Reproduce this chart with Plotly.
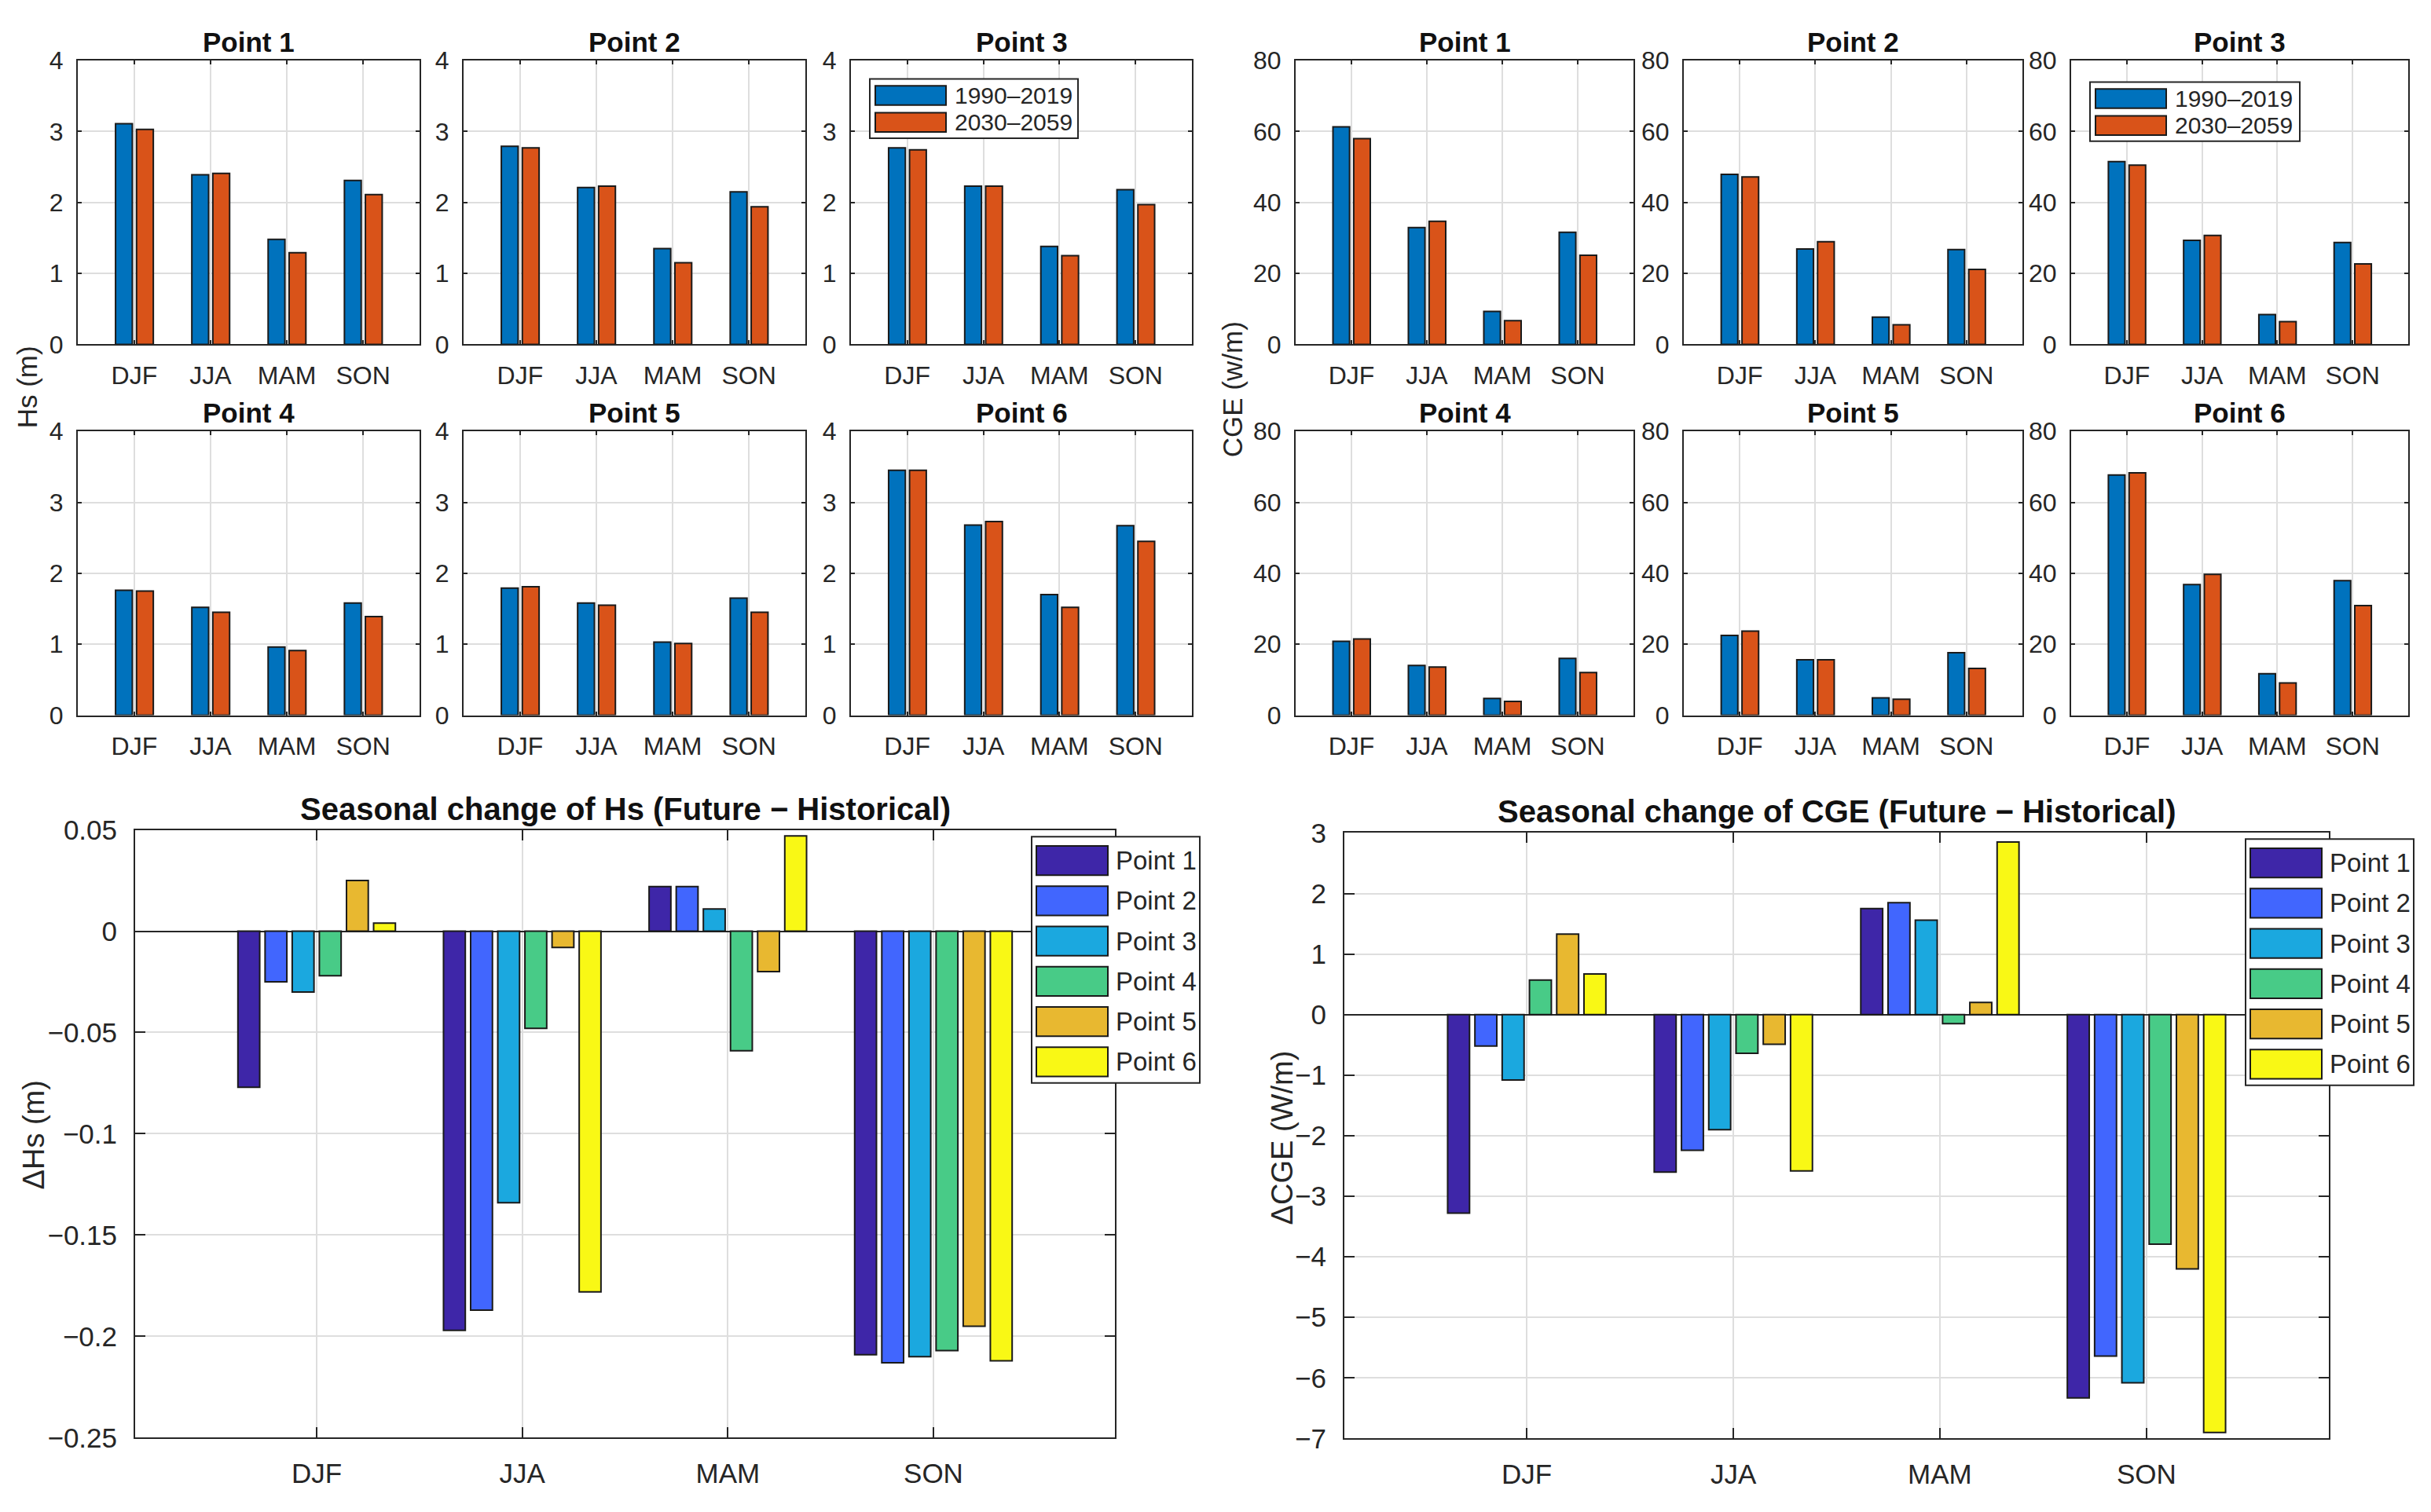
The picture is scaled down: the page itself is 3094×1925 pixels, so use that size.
import plotly.graph_objects as go

# ---- data ----
seasons = ["DJF", "JJA", "MAM", "SON"]
points = ["Point 1", "Point 2", "Point 3", "Point 4", "Point 5", "Point 6"]
periods = ["1990–2019", "2030–2059"]

# Hs (m), one row per point, seasons DJF JJA MAM SON
hs_hist = [
    [3.11, 2.39, 1.48, 2.31],
    [2.79, 2.21, 1.35, 2.15],
    [2.77, 2.23, 1.38, 2.18],
    [1.76, 1.52, 0.96, 1.58],
    [1.79, 1.58, 1.03, 1.65],
    [3.45, 2.68, 1.70, 2.67],
]
hs_fut = [
    [3.03, 2.41, 1.29, 2.11],
    [2.77, 2.23, 1.15, 1.94],
    [2.74, 2.23, 1.25, 1.97],
    [1.75, 1.45, 0.91, 1.39],
    [1.81, 1.55, 1.01, 1.45],
    [3.45, 2.73, 1.52, 2.45],
]

# CGE (w/m)
cge_hist = [
    [61.3, 32.9, 9.3, 31.6],
    [47.9, 26.9, 7.7, 26.7],
    [51.5, 29.3, 8.4, 28.7],
    [20.8, 14.0, 4.7, 16.0],
    [22.5, 15.6, 4.9, 17.6],
    [67.7, 36.8, 11.7, 37.9],
]
cge_fut = [
    [58.0, 34.7, 6.7, 25.1],
    [47.2, 28.9, 5.5, 21.1],
    [50.5, 30.7, 6.4, 22.7],
    [21.5, 13.6, 3.9, 12.0],
    [23.7, 15.6, 4.5, 13.2],
    [68.3, 39.7, 9.1, 30.9],
]

# seasonal change (future - historical), one row per point
d_hs = [
    [-0.077, -0.197, 0.022, -0.209],
    [-0.025, -0.187, 0.022, -0.213],
    [-0.030, -0.134, 0.011, -0.210],
    [-0.022, -0.048, -0.059, -0.207],
    [0.025, -0.008, -0.020, -0.195],
    [0.004, -0.178, 0.047, -0.212],
]
d_cge = [
    [-3.28, -2.60, 1.75, -6.33],
    [-0.52, -2.24, 1.85, -5.64],
    [-1.08, -1.90, 1.56, -6.08],
    [0.57, -0.64, -0.15, -3.79],
    [1.33, -0.49, 0.20, -4.20],
    [0.67, -2.58, 2.85, -6.90],
]

# ---- styling ----
PAGE_W, PAGE_H = 3094, 1925
PAD = 8  # browser default body margin around the plot div
W, H = PAGE_W - 2 * PAD, PAGE_H - 2 * PAD
FONT = "Arial, 'Liberation Sans', Helvetica, sans-serif"
INK = "#262626"
GRID = "#dedede"
EDGE = "#1a1a1a"
period_colors = ["#0072BD", "#D95319"]
point_colors = ["#3E26A8", "#4166FE", "#1BA8DF", "#48CB87", "#E8B830", "#F9F815"]


# page pixel -> paper fraction
def px(x):
    return (x - PAD) / W


def py(y):
    return 1 - (y - PAD) / H


fig = go.Figure()
layout = {}
annotations = []
shapes = []


def add_axes(k, xpx, ypx, xrange, yrange, dtick, ticklen, fsize, xstand, ystand):
    s = "" if k == 1 else str(k)
    common = dict(
        showline=True, linecolor=INK, linewidth=2, mirror="ticks",
        ticks="inside", ticklen=ticklen, tickwidth=2, tickcolor=INK,
        showgrid=True, gridcolor=GRID, gridwidth=1.5,
        tickfont=dict(family=FONT, size=fsize, color=INK),
    )
    layout["xaxis" + s] = dict(
        common, domain=[px(xpx[0]), px(xpx[1])], anchor="y" + s,
        type="category", categoryorder="array", categoryarray=seasons,
        range=xrange, ticklabelstandoff=xstand, zeroline=False,
    )
    layout["yaxis" + s] = dict(
        common, domain=[py(ypx[1]), py(ypx[0])], anchor="x" + s,
        range=yrange, dtick=dtick, ticklabelstandoff=ystand,
        zeroline=yrange[0] < 0, zerolinecolor=INK, zerolinewidth=2,
    )
    return "x" + s, "y" + s


def add_title(text, xpx, ytop, size, shift):
    annotations.append(dict(
        text="<b>%s</b>" % text, x=px((xpx[0] + xpx[1]) / 2), y=py(ytop),
        xref="paper", yref="paper", xanchor="center", yanchor="bottom",
        yshift=shift, showarrow=False,
        font=dict(family=FONT, size=size, color="#111111"),
    ))


def add_ylabel(text, x, y, size):
    annotations.append(dict(
        text=text, x=px(x), y=py(y), xref="paper", yref="paper",
        xanchor="center", yanchor="middle", textangle=-90, showarrow=False,
        font=dict(family=FONT, size=size, color=INK),
    ))


def add_legend(box, sw_x, sw_w, sw_h, rows_y, labels, colors, text_x, size):
    shapes.append(dict(
        type="rect", xref="paper", yref="paper", layer="above",
        x0=px(box[0]), x1=px(box[1]), y0=py(box[3]), y1=py(box[2]),
        fillcolor="white", line=dict(color=INK, width=2),
    ))
    for yy, lab, c in zip(rows_y, labels, colors):
        shapes.append(dict(
            type="rect", xref="paper", yref="paper", layer="above",
            x0=px(sw_x), x1=px(sw_x + sw_w), y0=py(yy + sw_h), y1=py(yy),
            fillcolor=c, line=dict(color=EDGE, width=2),
        ))
        annotations.append(dict(
            text=lab, x=px(text_x), y=py(yy + sw_h / 2), xref="paper",
            yref="paper", xanchor="left", yanchor="middle", showarrow=False,
            font=dict(family=FONT, size=size, color=INK),
        ))


# ---- small panels ----
hs_cols = [(99, 534), (590, 1025), (1083, 1517)]
cge_cols = [(1649, 2079), (2143, 2574), (2636, 3065)]
rows = [(58, 427), (540, 909)]

panels = [
    (hs_cols, hs_hist, hs_fut, [0, 4], 1, 1),
    (cge_cols, cge_hist, cge_fut, [0, 80], 20, 7),
]
for cols, hist, fut, yr, dt, k0 in panels:
    for i, name in enumerate(points):
        xpx = cols[i % 3]
        ypx = rows[i // 3]
        xa, ya = add_axes(k0 + i, xpx, ypx, [-0.74, 3.74], yr, dt, 5, 32, 10, 10)
        for vals, c, off, per in zip([hist[i], fut[i]], period_colors,
                                     [-0.245, 0.03], periods):
            fig.add_trace(go.Bar(
                x=seasons, y=vals, xaxis=xa, yaxis=ya, name=per,
                width=0.22, offset=off, showlegend=False,
                marker=dict(color=c, line=dict(color=EDGE, width=2)),
            ))
        add_title(name, xpx, ypx[0], 35, 2)

add_ylabel("Hs (m)", 34, 483, 35)
add_ylabel("CGE (w/m)", 1568, 486, 35)

add_legend((1107, 1372, 82, 159), 1114, 90, 25, [91, 126], periods,
           period_colors, 1213, 30)
add_legend((2660, 2927, 86, 163), 2667, 90, 25, [95, 130], periods,
           period_colors, 2766, 30)

# ---- seasonal change panels ----
big = [
    (13, (172, 1419), (1058, 1848), d_hs, [-0.25, 0.05], 0.05,
     "Seasonal change of Hs (Future − Historical)", "ΔHs (m)", (43, 1455)),
    (14, (1711, 2964), (1062, 1849), d_cge, [-7, 3], 1,
     "Seasonal change of CGE (Future − Historical)", "ΔCGE (W/m)", (1632, 1458)),
]
for k, xpx, ypx, dvals, yr, dt, title, ylab, lab_pos in big:
    xa, ya = add_axes(k, xpx, ypx, [-0.883, 3.883], yr, dt, 13, 35, 14, 14)
    for j, name in enumerate(points):
        fig.add_trace(go.Bar(
            x=seasons, y=dvals[j], xaxis=xa, yaxis=ya, name=name,
            width=0.106, offset=-0.383 + j * 0.132, showlegend=False,
            marker=dict(color=point_colors[j], line=dict(color=EDGE, width=2)),
        ))
    add_title(title, xpx, ypx[0], 40, 3)
    add_ylabel(ylab, lab_pos[0], lab_pos[1], 38)

add_legend((1313, 1527, 1067, 1387), 1319, 91, 38,
           [1079 + 52.3 * j for j in range(6)], points, point_colors, 1418, 33)
add_legend((2858, 3072, 1070, 1390), 2864, 91, 38,
           [1082 + 52.3 * j for j in range(6)], points, point_colors, 2963, 33)

fig.update_layout(
    width=W, height=H,
    margin=dict(l=0, r=0, t=0, b=0),
    paper_bgcolor="white", plot_bgcolor="white",
    barmode="overlay",
    font=dict(family=FONT, color=INK),
    annotations=annotations, shapes=shapes,
    **layout,
)

fig.write_html("out.html")
